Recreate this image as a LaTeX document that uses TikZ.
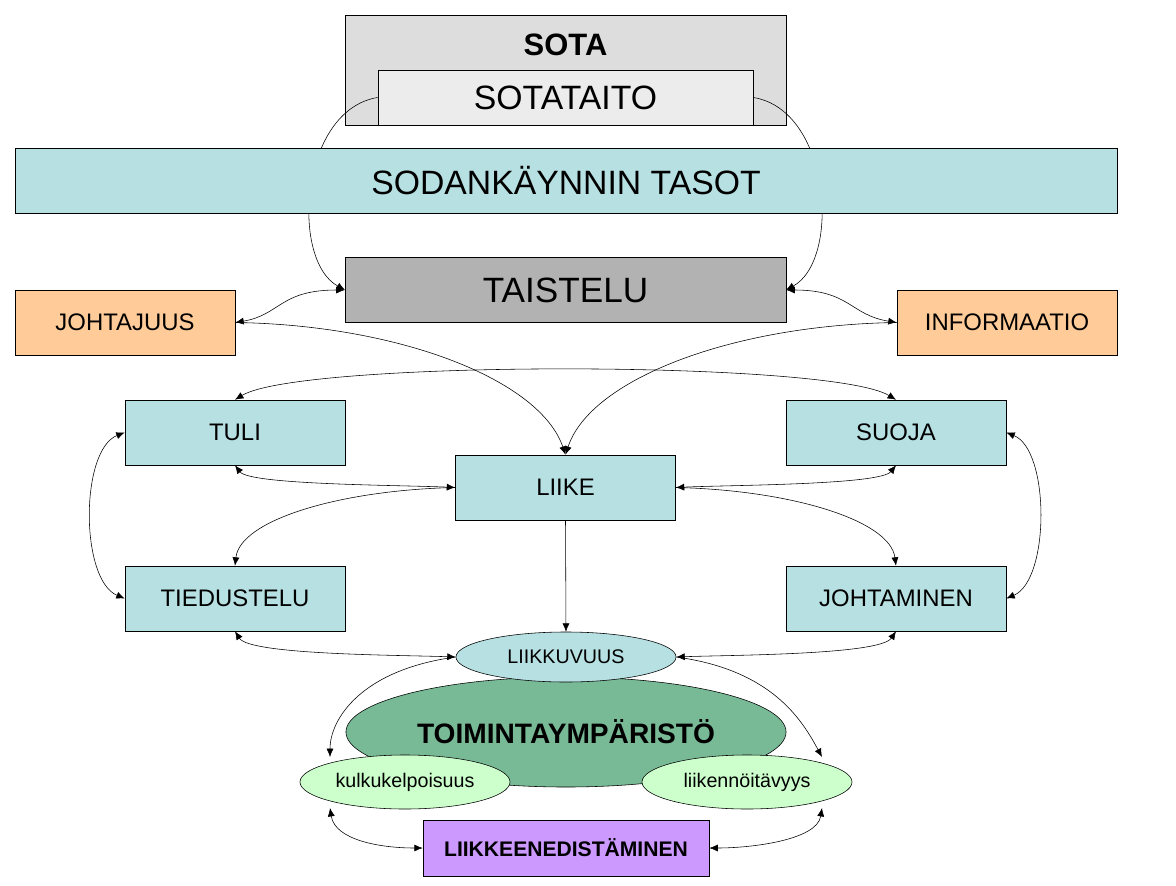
\documentclass[tikz,border=0pt]{standalone}
\usepackage{fontspec}
\setmainfont{Liberation Sans}
\usetikzlibrary{arrows.meta,shapes.geometric}

\tikzset{
  box/.style={draw=black,inner sep=0pt,fill=cyanbox,minimum width=5.5cm,minimum height=1.625cm,font=\fontsize{17}{20}\selectfont},
  oval/.style={draw=black,ellipse,inner sep=0pt},
  link/.style={-{Latex[length=6pt,width=5pt]}},
  blink/.style={{Latex[length=6pt,width=5pt]}-{Latex[length=6pt,width=5pt]}}
}
\definecolor{cyanbox}{RGB}{183,224,227}
\definecolor{graybox}{RGB}{221,221,221}
\definecolor{lightbox}{RGB}{236,236,236}
\definecolor{darkbox}{RGB}{178,178,178}
\definecolor{orangebox}{RGB}{255,204,153}
\definecolor{greenoval}{RGB}{120,185,150}
\definecolor{lightgreen}{RGB}{204,255,204}
\definecolor{purplebox}{RGB}{204,153,255}

\begin{document}
\begin{tikzpicture}[x=0.025cm,y=-0.025cm]
  \useasboundingbox (0,0) rectangle (1176,886);

  % sota ja sotataito
  \node[draw,fill=graybox,inner sep=0pt,minimum width=11.025cm,minimum height=2.75cm] (sota) at (565.5,70) {};
  \node[font=\bfseries\fontsize{22}{26}\selectfont] (sotat) at (565.5,45) {SOTA};
  \node[draw,fill=lightbox,inner sep=0pt,minimum width=9.375cm,minimum height=1.375cm,font=\fontsize{24}{28}\selectfont] (taito) at (565.5,97.5) {SOTATAITO};

  % kaaret tasojen takana
  \coordinate (tl) at (345,290);
  \coordinate (tr) at (786,290);
  \draw[link] (taito.west) .. controls (300,110) and (290,260) .. (tl);
  \draw[link] (taito.east) .. controls (831,110) and (841,260) .. (tr);

  \node[box,minimum width=27.55cm,font=\fontsize{24}{28}\selectfont] (tasot) at (566,180.5) {SODANKÄYNNIN TASOT};
  \node[box,fill=darkbox,minimum width=11.025cm,font=\fontsize{25}{30}\selectfont] (taistelu) at (565.5,290) {TAISTELU};

  \node[box,fill=orangebox] (johtajuus) at (125,322.5) {JOHTAJUUS};
  \node[box,fill=orangebox] (info) at (1007,322.5) {INFORMAATIO};
  \node[box] (tuli) at (235,432.5) {TULI};
  \node[box] (suoja) at (896,432.5) {SUOJA};
  \node[box] (liike) at (565.5,487.5) {LIIKE};
  \node[box] (tied) at (235,598.5) {TIEDUSTELU};
  \node[box] (johtam) at (896,598.5) {JOHTAMINEN};

  \node[oval,fill=greenoval,minimum width=11cm,minimum height=2.75cm,font=\bfseries\fontsize{20}{24}\selectfont] (toim) at (566,732) {TOIMINTAYMPÄRISTÖ};
  \node[oval,fill=cyanbox,minimum width=5.5cm,minimum height=1.25cm,font=\fontsize{14}{17}\selectfont] (liikk) at (566,657) {LIIKKUVUUS};
  \node[oval,fill=lightgreen,minimum width=5.25cm,minimum height=1.35cm,font=\fontsize{14}{17}\selectfont] (kulku) at (405,782) {kulkukelpoisuus};
  \node[oval,fill=lightgreen,minimum width=5.25cm,minimum height=1.35cm,font=\fontsize{14}{17}\selectfont] (liiken) at (747,782) {liikennöitävyys};
  \node[box,fill=purplebox,minimum width=7.15cm,minimum height=1.4cm,font=\bfseries\fontsize{15}{18}\selectfont] (edist) at (566,848) {LIIKKEENEDISTÄMINEN};

  % yhteydet
  \draw[blink] (johtajuus.east) .. controls (280,315) and (280,290) .. (taistelu.west);
  \draw[blink] (info.west) .. controls (850,315) and (850,290) .. (taistelu.east);
  \draw[link] (johtajuus.east) .. controls (400,325) and (540,380) .. (liike.north);
  \draw[link] (info.west) .. controls (730,325) and (590,380) .. (liike.north);
  \draw[blink] (tuli.north) .. controls (300,360) and (830,360) .. (suoja.north);
  \draw[blink] (tuli.south) .. controls (250,485) and (400,485) .. (liike.west);
  \draw[blink] (suoja.south) .. controls (880,485) and (730,485) .. (liike.east);
  \draw[link] (liike.west) .. controls (340,490) and (240,520) .. (tied.north);
  \draw[link] (liike.east) .. controls (790,490) and (890,520) .. (johtam.north);
  \draw[blink] (tuli.west) .. controls (80,450) and (80,580) .. (tied.west);
  \draw[blink] (suoja.east) .. controls (1050,450) and (1050,580) .. (johtam.east);
  \draw[link] (liike.south) -- (liikk.north);
  \draw[blink] (tied.south) .. controls (250,655) and (400,655) .. (liikk.west);
  \draw[blink] (johtam.south) .. controls (880,655) and (730,655) .. (liikk.east);
  \draw[link] (liikk.west) .. controls (360,670) and (330,720) .. (330,757);
  \draw[link] (liikk.east) .. controls (772,670) and (802,720) .. (822,757);
  \draw[blink] (330,808) .. controls (335,840) and (380,848) .. (edist.west);
  \draw[blink] (822,808) .. controls (817,840) and (752,848) .. (edist.east);
\end{tikzpicture}
\end{document}
